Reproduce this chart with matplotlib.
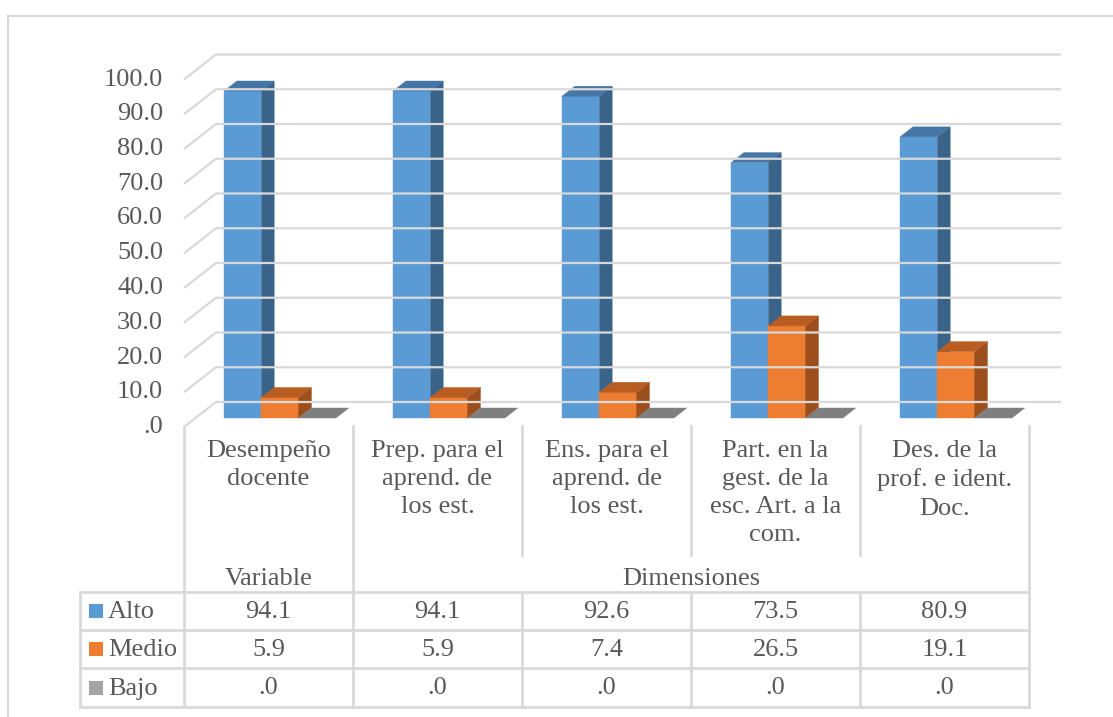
import matplotlib.pyplot as plt
from matplotlib.patches import Polygon, Rectangle
from matplotlib.transforms import IdentityTransform, offset_copy
import numpy as np

plt.rcParams['font.family'] = ['Liberation Serif', 'DejaVu Serif']

categories = [
    'Desempeño\ndocente',
    'Prep. para el\naprend. de\nlos est.',
    'Ens. para el\naprend. de\nlos est.',
    'Part. en la\ngest. de la\nesc. Art. a la\ncom.',
    'Des. de la\nprof. e ident.\nDoc.',
]
groups = ['Variable', 'Dimensiones']
series = ['Alto', 'Medio', 'Bajo']
alto = [94.1, 94.1, 92.6, 73.5, 80.9]
medio = [5.9, 5.9, 7.4, 26.5, 19.1]
bajo = [0.0, 0.0, 0.0, 0.0, 0.0]
yticks = [0, 10, 20, 30, 40, 50, 60, 70, 80, 90, 100]

# face colours: front, top, side
faces = {
    'Alto': ('#5B9BD5', '#4676A6', '#3A6389'),
    'Medio': ('#ED7D31', '#B95E22', '#9C4F1D'),
    'Bajo': ('#A5A5A5', '#7F7F7F', '#6E6E6E'),
}
TXT = '#595959'
GRID = '#D9D9D9'
FS = 19

W, H = 1113, 717
fig = plt.figure(figsize=(W / 100, H / 100), dpi=100)

# bar axes: front plane of the floor, values 0..100
ax = fig.add_axes([184 / W, (H - 427) / H, 845 / W, 347.5 / H])
ax.set_xlim(-0.5, 4.5)
ax.set_ylim(0, 100)
ax.axis('off')

DX, DY = 32, 25       # full depth of the 3d box in pixels
D0, D1 = 0.36, 0.76   # depth range of the bars
bw = 0.2206


def px(x, y, d=0.0):
    p = ax.transData.transform((x, y))
    return (p[0] + d * DX, p[1] + d * DY)


def poly(pts, color):
    ax.add_patch(Polygon(pts, closed=True, facecolor=color, edgecolor=color,
                         lw=0.3, transform=IdentityTransform(), clip_on=False))


# gridlines: diagonal on the side wall, then across the back wall
for v in yticks:
    pts = np.array([px(-0.5, v), px(-0.5, v, 1), px(4.5, v, 1)])
    ax.plot(pts[:, 0], pts[:, 1], color=GRID, lw=1.6, transform=IdentityTransform(),
            clip_on=False, solid_capstyle='butt')

lab_tr = offset_copy(ax.transData, fig=fig, x=-21, y=0, units='dots')
for v in yticks:
    ax.text(-0.5, v, '%.1f' % v if v else '.0', transform=lab_tr, ha='right',
            va='center', fontsize=FS, color=TXT)

values = {'Alto': alto, 'Medio': medio, 'Bajo': bajo}
for i in range(len(categories)):
    for k, name in enumerate(series):
        v = values[name][i]
        xl = i - 1.5 * bw + k * bw
        xr = xl + bw
        front, top, side = faces[name]
        if v > 0:
            poly([px(xl, 0, D0), px(xr, 0, D0), px(xr, v, D0), px(xl, v, D0)], front)
            poly([px(xr, 0, D0), px(xr, 0, D1), px(xr, v, D1), px(xr, v, D0)], side)
        poly([px(xl, v, D0), px(xr, v, D0), px(xr, v, D1), px(xl, v, D1)], top)

# data table underneath, x in category units, y in pixels from the top
tb = fig.add_axes([0, 0, 1, 1])
x0 = ax.transData.inverted().transform((0, 0))[0]
x1 = ax.transData.inverted().transform((W, 0))[0]
tb.set_xlim(x0, x1)
tb.set_ylim(H, 0)
tb.axis('off')
tb.patch.set_alpha(0)


def cat_x(pixel):
    return ax.transData.inverted().transform((pixel, 0))[0]


key_l = cat_x(80)
lw_t = 2.0
edges = [j - 0.5 for j in range(len(categories) + 1)]
row_y = [592, 630, 668, 707]

# outer frame
tb.plot([cat_x(8)] * 2, [16, H], color=GRID, lw=1.6)
tb.plot([cat_x(8), x1], [16, 16], color=GRID, lw=1.6)

# header separators
tb.plot([edges[0]] * 2, [427, row_y[0]], color=GRID, lw=lw_t)
tb.plot([edges[1]] * 2, [426, row_y[0]], color=GRID, lw=lw_t)
for e in edges[2:-1]:
    tb.plot([e, e], [426, 555], color=GRID, lw=lw_t)
tb.plot([edges[-1]] * 2, [426, row_y[-1]], color=GRID, lw=lw_t)

# body grid
for y in row_y:
    tb.plot([key_l, edges[-1]], [y, y], color=GRID, lw=lw_t)
for e in [key_l] + edges[:-1]:
    tb.plot([e, e], [row_y[0], row_y[-1]], color=GRID, lw=lw_t)

for i, c in enumerate(categories):
    tb.text(i, 440, c, ha='center', va='top', fontsize=FS, color=TXT, linespacing=1.36)
tb.text(0, 579, groups[0], ha='center', va='center', fontsize=FS, color=TXT)
tb.text(2.5, 579, groups[1], ha='center', va='center', fontsize=FS, color=TXT)

key_w = cat_x(103) - cat_x(89)
for r, name in enumerate(series):
    yc = (row_y[r] + row_y[r + 1]) / 2
    tb.add_patch(Rectangle((cat_x(89), yc - 7), key_w, 14, facecolor=faces[name][0],
                           edgecolor='none'))
    tb.text(cat_x(108), yc + 1, name, ha='left', va='center', fontsize=FS, color=TXT)
    for i, v in enumerate(values[name]):
        tb.text(i, yc + 1, '%.1f' % v if v else '.0', ha='center', va='center',
                fontsize=FS, color=TXT)

fig.savefig('out.png', dpi=100)
